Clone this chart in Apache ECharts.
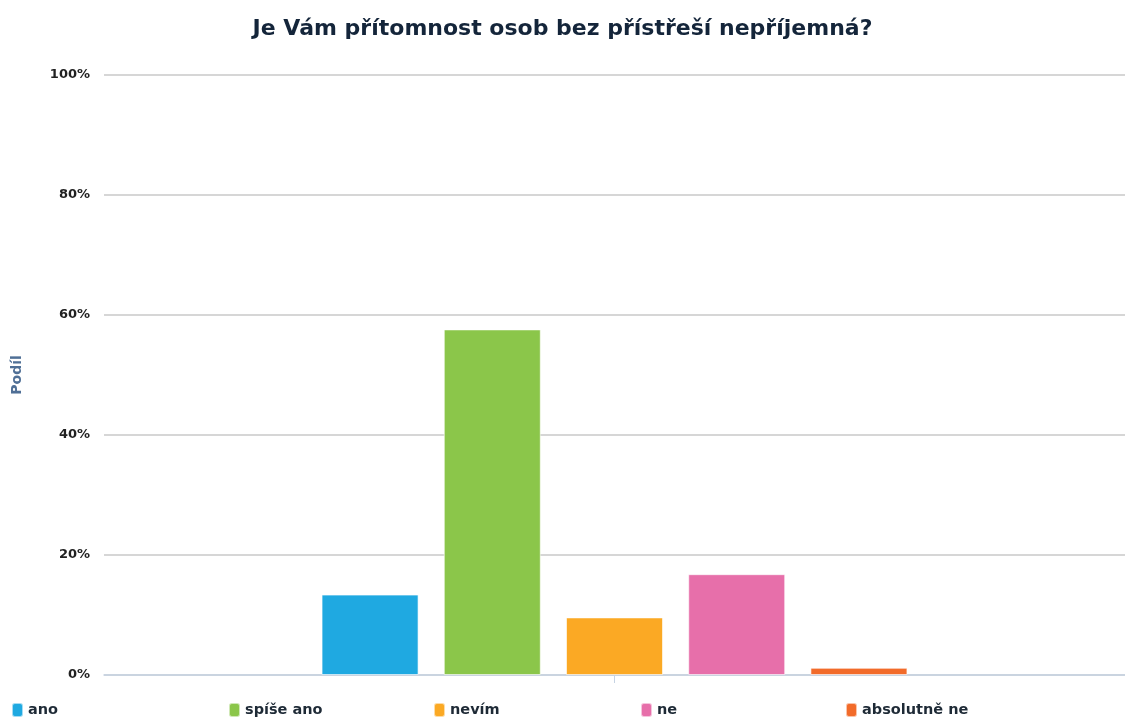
<!DOCTYPE html>
<html>
<head>
<meta charset="utf-8">
<title>Je Vám přítomnost osob bez přístřeší nepříjemná?</title>
<script src="https://cdn.jsdelivr.net/npm/echarts@6/dist/echarts.min.js"></script>
<style>
  html, body { margin: 0; padding: 0; background: #fff; }
  #chart { width: 1125px; height: 725px; }
</style>
</head>
<body>
<div id="chart"></div>
<script>
// data
var answers = ['ano', 'spíše ano', 'nevím', 'ne', 'absolutně ne'];
var shares = [13.4, 57.6, 9.6, 16.8, 1.2];
var colors = ['#1FA9E1', '#8BC64A', '#FBA924', '#E76FAA', '#F26B2A'];
var yTicks = [0, 20, 40, 60, 80, 100];
var legendLeft = [6, 223, 428, 635, 840];

var chart = echarts.init(document.getElementById('chart'));

var series = [];
var legends = [];
for (var i = 0; i < answers.length; i++) {
  series.push({
    name: answers[i],
    type: 'bar',
    data: [shares[i]],
    barWidth: 97,
    barGap: '26%',
    itemStyle: { color: colors[i], borderColor: 'rgba(255,255,255,0.6)', borderWidth: 1 }
  });
  legends.push({
    data: [answers[i]],
    left: legendLeft[i],
    bottom: 2,
    icon: 'roundRect',
    itemWidth: 11,
    itemHeight: 14,
    itemGap: 4,
    textStyle: { color: '#1e2a36', fontFamily: 'DejaVu Sans', fontWeight: 'bold', fontSize: 14.5 }
  });
}

var option = {
  animation: false,
  color: colors,
  title: {
    text: 'Je Vám přítomnost osob bez přístřeší nepříjemná?',
    left: 'center',
    top: 13,
    textStyle: { color: '#14253a', fontFamily: 'DejaVu Sans', fontWeight: 'bold', fontSize: 22 }
  },
  legend: legends,
  grid: { left: 104, right: 0, top: 75, bottom: 50 },
  xAxis: {
    type: 'category',
    data: [''],
    axisLine: { lineStyle: { color: '#c6d3e3', width: 1.5 } },
    axisTick: { show: true, alignWithLabel: true, length: 8, lineStyle: { color: '#c6d3e3' } },
    axisLabel: { show: true, color: 'transparent' }
  },
  yAxis: {
    type: 'value',
    min: yTicks[0],
    max: yTicks[yTicks.length - 1],
    interval: 20,
    name: 'Podíl',
    nameLocation: 'middle',
    nameGap: 80,
    nameTextStyle: { color: '#4f6f96', fontFamily: 'DejaVu Sans', fontWeight: 'bold', fontSize: 14 },
    axisLabel: {
      formatter: '{value}%',
      margin: 14,
      color: '#222',
      fontFamily: 'DejaVu Sans',
      fontWeight: 'bold',
      fontSize: 13
    },
    splitLine: { lineStyle: { color: '#c8c8c8', width: 1.5 } },
    axisLine: { show: false },
    axisTick: { show: false }
  },
  series: series
};
chart.setOption(option);
</script>
</body>
</html>
